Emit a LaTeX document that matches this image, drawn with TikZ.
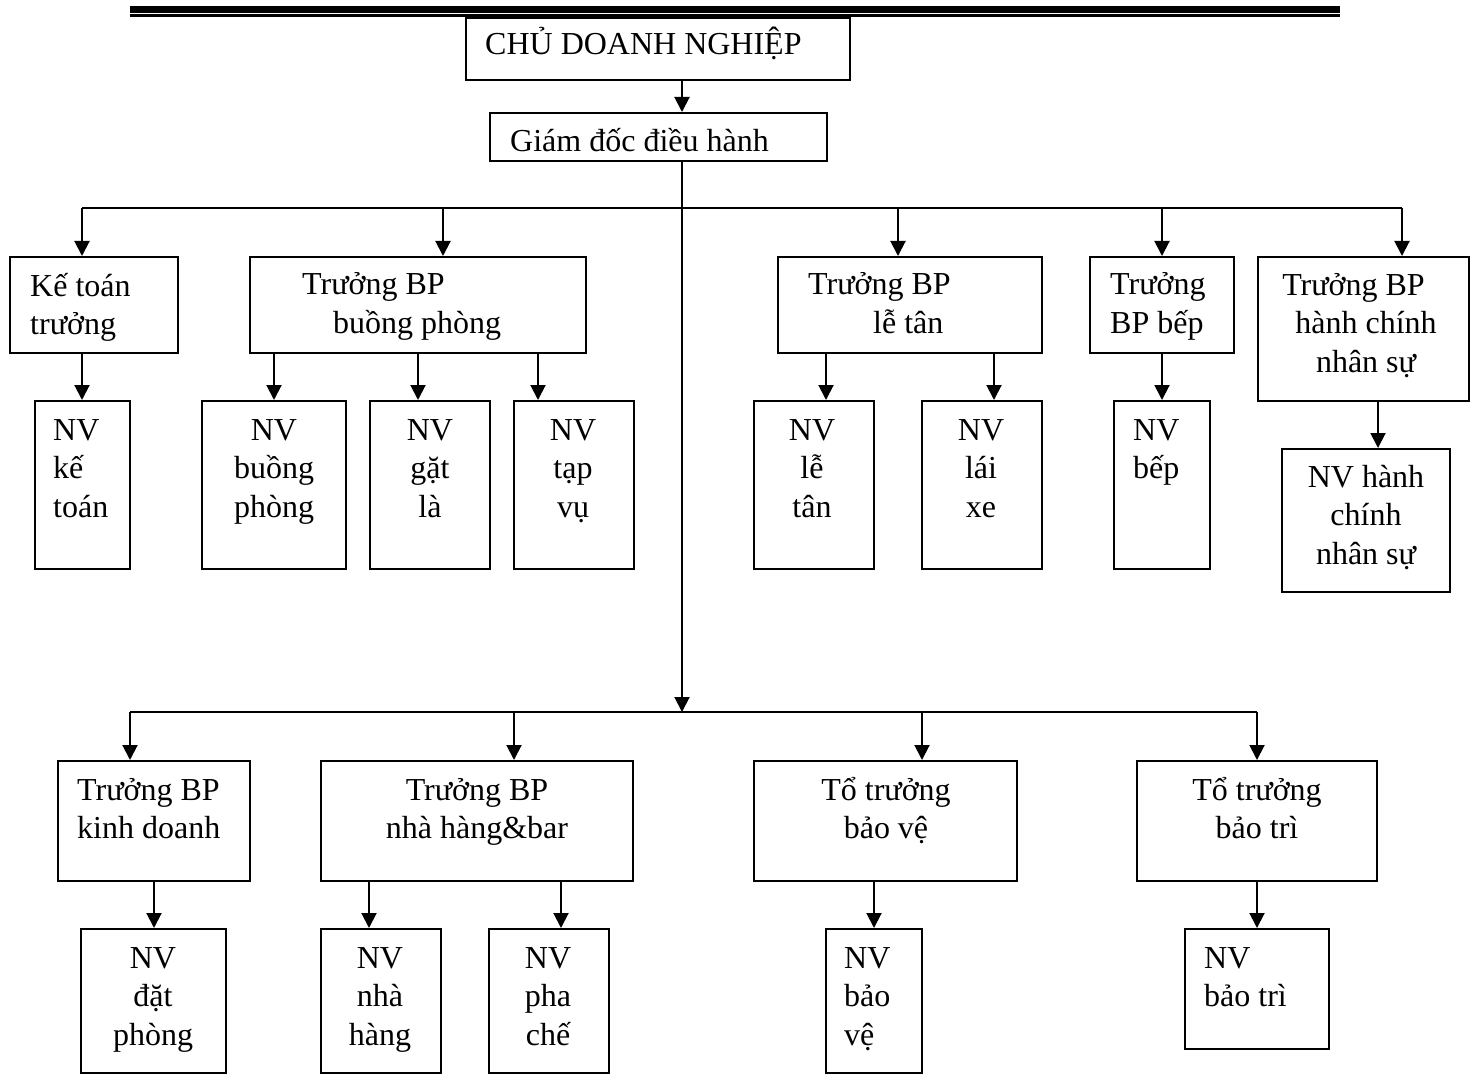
\documentclass[tikz,border=0pt]{standalone}
\usepackage{fontspec}
\setmainfont{Liberation Serif}
\usetikzlibrary{arrows.meta, fit}

\begin{document}
\begin{tikzpicture}[
    x=1pt, y=-1pt,
    box/.style={
        draw=black,
        line width=2pt,
        inner sep=0pt
    },
    lbl/.style={
        inner sep=0pt,
        font=\fontsize{32}{38.5}\selectfont,
        align=left,
        anchor=base west
    },
    clbl/.style={
        lbl,
        align=center,
        anchor=base
    },
    arr/.style={
        -{Triangle[width=15pt, length=15pt]},
        line width=2pt
    },
    link/.style={
        line width=2pt
    }
]
\useasboundingbox (0,0) rectangle (1470,1075);

% ------------------------------------------------
% Header rule
% ------------------------------------------------
\draw[line width=7pt] (130,9.5) -- (1340,9.5);
\draw[line width=2.6pt] (130,15.6) -- (1340,15.6);

% ------------------------------------------------
% Top of the chart
% (text nodes sit on the baseline of their last line)
% ------------------------------------------------
\node[box, fit={(466,18) (850,80)}] (chu) {};
\node[lbl] (chu-t) at (485,55) {CHỦ DOANH NGHIỆP};

\node[box, fit={(490,113) (827,161)}] (giamdoc) {};
\node[lbl] (giamdoc-t) at (510,152) {Giám đốc điều hành};

\coordinate (trunk) at (682,0);
\coordinate (bus1) at (0,208);
\coordinate (bus2) at (0,712);

% ------------------------------------------------
% Upper departments
% ------------------------------------------------
\node[box, fit={(10,257) (178,353)}] (ketoan) {};
\node[lbl] (ketoan-t) at (30,334.5) {Kế toán\\trưởng};

\node[box, fit={(250,257) (586,353)}] (buongphong) {};
\node[lbl] (buongphong-t) at (302,333.5) {Trưởng BP\\\hspace*{31pt}buồng phòng};

\node[box, fit={(778,257) (1042,353)}] (letan) {};
\node[lbl] (letan-t) at (808,333.5) {Trưởng BP\\\hspace*{65pt}lễ tân};

\node[box, fit={(1090,257) (1234,353)}] (bep) {};
\node[lbl] (bep-t) at (1110,333.5) {Trưởng\\BP bếp};

\node[box, fit={(1258,257) (1469,401)}] (hcns) {};
\node[clbl] (hcns-t) at (1366,372) {Trưởng BP\hspace*{25pt}\\hành chính\\nhân sự};

% staff under the upper departments
\node[box, fit={(35,401) (130,569)}] (nvketoan) {};
\node[lbl] (nvketoan-t) at (53,517) {NV\\kế\\toán};

\node[box, fit={(202,401) (346,569)}] (nvbuong) {};
\node[clbl] (nvbuong-t) at (274,517) {NV\\buồng\\phòng};

\node[box, fit={(370,401) (490,569)}] (nvgatla) {};
\node[clbl] (nvgatla-t) at (430,517) {NV\\gặt\\là};

\node[box, fit={(514,401) (634,569)}] (nvtapvu) {};
\node[clbl] (nvtapvu-t) at (573,517) {NV\\tạp\\vụ};

\node[box, fit={(754,401) (874,569)}] (nvletan) {};
\node[clbl] (nvletan-t) at (812,517) {NV\\lễ\\tân};

\node[box, fit={(922,401) (1042,569)}] (nvlaixe) {};
\node[clbl] (nvlaixe-t) at (981,517) {NV\\lái\\xe};

\node[box, fit={(1114,401) (1210,569)}] (nvbep) {};
\node[lbl] (nvbep-t) at (1133,478.5) {NV\\bếp};

\node[box, fit={(1282,449) (1450,592)}] (nvhcns) {};
\node[clbl] (nvhcns-t) at (1366,564) {NV hành\\chính\\nhân sự};

% ------------------------------------------------
% Lower departments
% ------------------------------------------------
\node[box, fit={(58,761) (250,881)}] (kinhdoanh) {};
\node[lbl] (kinhdoanh-t) at (77,838.5) {Trưởng BP\\kinh doanh};

\node[box, fit={(321,761) (633,881)}] (nhahang) {};
\node[clbl] (nhahang-t) at (477,838.5) {Trưởng BP\\nhà hàng\&bar};

\node[box, fit={(754,761) (1017,881)}] (baove) {};
\node[clbl] (baove-t) at (886,838.5) {Tổ trưởng\\bảo vệ};

\node[box, fit={(1137,761) (1377,881)}] (baotri) {};
\node[clbl] (baotri-t) at (1257,838.5) {Tổ trưởng\\bảo trì};

% staff under the lower departments
\node[box, fit={(81,929) (226,1073)}] (nvdatphong) {};
\node[clbl] (nvdatphong-t) at (153,1045) {NV\\đặt\\phòng};

\node[box, fit={(321,929) (441,1073)}] (nvnhahang) {};
\node[clbl] (nvnhahang-t) at (380,1045) {NV\\nhà\\hàng};

\node[box, fit={(489,929) (609,1073)}] (nvphache) {};
\node[clbl] (nvphache-t) at (548,1045) {NV\\pha\\chế};

\node[box, fit={(826,929) (922,1073)}] (nvbaove) {};
\node[lbl] (nvbaove-t) at (844,1045) {NV\\bảo\\vệ};

\node[box, fit={(1185,929) (1329,1049)}] (nvbaotri) {};
\node[lbl] (nvbaotri-t) at (1204,1006.5) {NV\\bảo trì};

% ------------------------------------------------
% Trunk and buses
% ------------------------------------------------
\draw[arr] (trunk |- chu.south) -- (trunk |- giamdoc.north);
\draw[arr] (trunk |- giamdoc.south) -- (trunk |- bus2);

\draw[link] (82,0 |- bus1) -- (1402,0 |- bus1);
\draw[link] (130,0 |- bus2) -- (1257,0 |- bus2);

\foreach \x/\n in {82/ketoan, 443/buongphong, 898/letan, 1162/bep, 1402/hcns}{
  \draw[arr] (\x,0 |- bus1) -- (\x,0 |- \n.north);
}

\foreach \x/\n in {130/kinhdoanh, 514/nhahang, 922/baove, 1257/baotri}{
  \draw[arr] (\x,0 |- bus2) -- (\x,0 |- \n.north);
}

% ------------------------------------------------
% Department to staff
% ------------------------------------------------
\foreach \x/\a/\b in {82/ketoan/nvketoan, 274/buongphong/nvbuong,
    418/buongphong/nvgatla, 538/buongphong/nvtapvu,
    826/letan/nvletan, 994/letan/nvlaixe, 1162/bep/nvbep,
    1378/hcns/nvhcns, 154/kinhdoanh/nvdatphong,
    369/nhahang/nvnhahang, 561/nhahang/nvphache,
    874/baove/nvbaove, 1257/baotri/nvbaotri}{
  \draw[arr] (\x,0 |- \a.south) -- (\x,0 |- \b.north);
}

\end{tikzpicture}
\end{document}
